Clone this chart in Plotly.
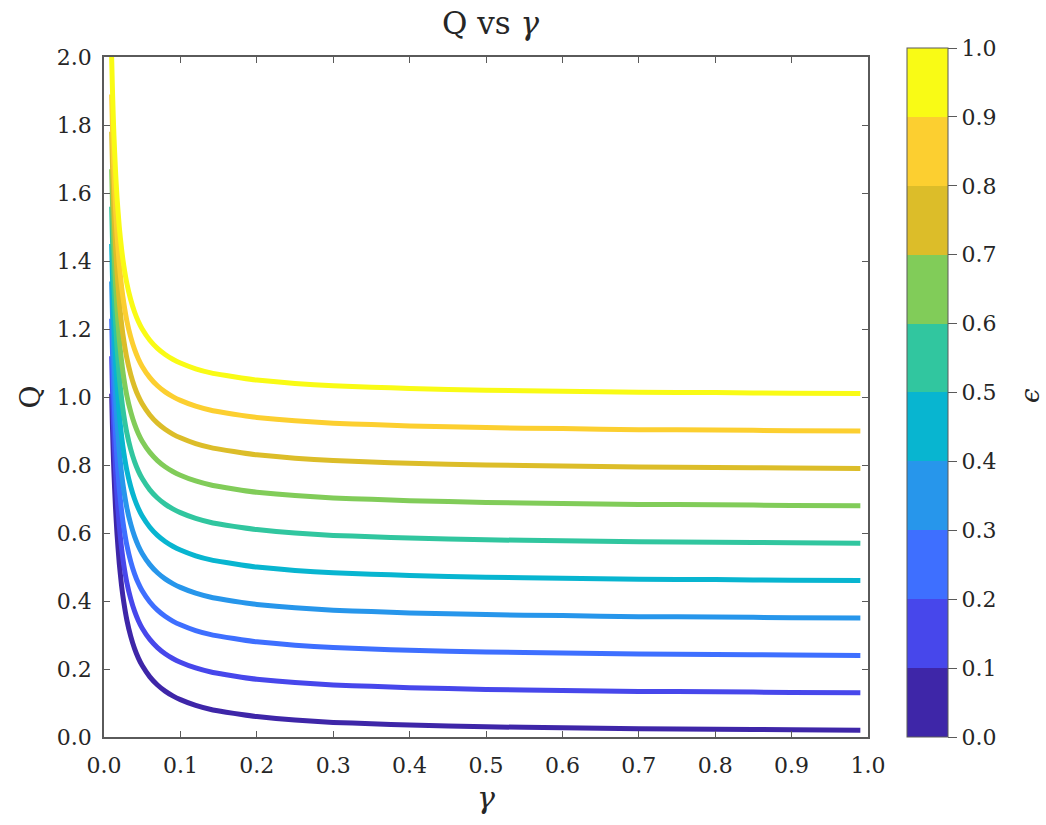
import plotly.graph_objects as go

gamma = [0.01, 0.011, 0.012, 0.013, 0.015, 0.017, 0.02, 0.023, 0.026, 0.03, 0.035, 0.04,
         0.045, 0.05, 0.06, 0.07, 0.08, 0.09, 0.1, 0.12, 0.14, 0.16, 0.18, 0.2, 0.25,
         0.3, 0.35, 0.4, 0.5, 0.6, 0.7, 0.8, 0.9, 0.99]

eps_levels = [0.01, 0.12, 0.23, 0.34, 0.45, 0.56, 0.67, 0.78, 0.89, 1.00]

q_eps_001 = [1.010, 0.919, 0.843, 0.779, 0.677, 0.598, 0.510, 0.445, 0.395, 0.343, 0.296, 0.260, 0.232, 0.210, 0.177, 0.153, 0.135, 0.121, 0.110, 0.093, 0.081, 0.073, 0.066, 0.060, 0.050, 0.043, 0.039, 0.035, 0.030, 0.027, 0.024, 0.023, 0.021, 0.020]
q_eps_012 = [1.120, 1.029, 0.953, 0.889, 0.787, 0.708, 0.620, 0.555, 0.505, 0.453, 0.406, 0.370, 0.342, 0.320, 0.287, 0.263, 0.245, 0.231, 0.220, 0.203, 0.191, 0.183, 0.176, 0.170, 0.160, 0.153, 0.149, 0.145, 0.140, 0.137, 0.134, 0.133, 0.131, 0.130]
q_eps_023 = [1.230, 1.139, 1.063, 0.999, 0.897, 0.818, 0.730, 0.665, 0.615, 0.563, 0.516, 0.480, 0.452, 0.430, 0.397, 0.373, 0.355, 0.341, 0.330, 0.313, 0.301, 0.293, 0.286, 0.280, 0.270, 0.263, 0.259, 0.255, 0.250, 0.247, 0.244, 0.243, 0.241, 0.240]
q_eps_034 = [1.340, 1.249, 1.173, 1.109, 1.007, 0.928, 0.840, 0.775, 0.725, 0.673, 0.626, 0.590, 0.562, 0.540, 0.507, 0.483, 0.465, 0.451, 0.440, 0.423, 0.411, 0.403, 0.396, 0.390, 0.380, 0.373, 0.369, 0.365, 0.360, 0.357, 0.354, 0.353, 0.351, 0.350]
q_eps_045 = [1.450, 1.359, 1.283, 1.219, 1.117, 1.038, 0.950, 0.885, 0.835, 0.783, 0.736, 0.700, 0.672, 0.650, 0.617, 0.593, 0.575, 0.561, 0.550, 0.533, 0.521, 0.513, 0.506, 0.500, 0.490, 0.483, 0.479, 0.475, 0.470, 0.467, 0.464, 0.463, 0.461, 0.460]
q_eps_056 = [1.560, 1.469, 1.393, 1.329, 1.227, 1.148, 1.060, 0.995, 0.945, 0.893, 0.846, 0.810, 0.782, 0.760, 0.727, 0.703, 0.685, 0.671, 0.660, 0.643, 0.631, 0.623, 0.616, 0.610, 0.600, 0.593, 0.589, 0.585, 0.580, 0.577, 0.574, 0.573, 0.571, 0.570]
q_eps_067 = [1.670, 1.579, 1.503, 1.439, 1.337, 1.258, 1.170, 1.105, 1.055, 1.003, 0.956, 0.920, 0.892, 0.870, 0.837, 0.813, 0.795, 0.781, 0.770, 0.753, 0.741, 0.733, 0.726, 0.720, 0.710, 0.703, 0.699, 0.695, 0.690, 0.687, 0.684, 0.683, 0.681, 0.680]
q_eps_078 = [1.780, 1.689, 1.613, 1.549, 1.447, 1.368, 1.280, 1.215, 1.165, 1.113, 1.066, 1.030, 1.002, 0.980, 0.947, 0.923, 0.905, 0.891, 0.880, 0.863, 0.851, 0.843, 0.836, 0.830, 0.820, 0.813, 0.809, 0.805, 0.800, 0.797, 0.794, 0.793, 0.791, 0.790]
q_eps_089 = [1.890, 1.799, 1.723, 1.659, 1.557, 1.478, 1.390, 1.325, 1.275, 1.223, 1.176, 1.140, 1.112, 1.090, 1.057, 1.033, 1.015, 1.001, 0.990, 0.973, 0.961, 0.953, 0.946, 0.940, 0.930, 0.923, 0.919, 0.915, 0.910, 0.907, 0.904, 0.903, 0.901, 0.900]
q_eps_100 = [2.000, 1.909, 1.833, 1.769, 1.667, 1.588, 1.500, 1.435, 1.385, 1.333, 1.286, 1.250, 1.222, 1.200, 1.167, 1.143, 1.125, 1.111, 1.100, 1.083, 1.071, 1.063, 1.056, 1.050, 1.040, 1.033, 1.029, 1.025, 1.020, 1.017, 1.014, 1.013, 1.011, 1.010]

series = [q_eps_001, q_eps_012, q_eps_023, q_eps_034, q_eps_045,
          q_eps_056, q_eps_067, q_eps_078, q_eps_089, q_eps_100]

colors = ["#3e26a8", "#4747eb", "#3e6fff", "#2796eb", "#08b5d0",
          "#31c69f", "#81cc59", "#dcbd29", "#fccf30", "#f9fb15"]

cbar_ticks = [0.0, 0.1, 0.2, 0.3, 0.4, 0.5, 0.6, 0.7, 0.8, 0.9, 1.0]

FONT = "DejaVu Serif"
TXT = "#262626"
AX = "#5a5a5a"

fig = go.Figure()
for q, c, e in zip(series, colors, eps_levels):
    fig.add_trace(go.Scatter(x=gamma, y=q, mode="lines",
                             line=dict(color=c, width=5, shape="spline", smoothing=0.5),
                             showlegend=False, name=f"ε={e}"))

# discrete colorscale for the colorbar
cs = []
for i, c in enumerate(colors):
    cs.append([i / 10, c])
    cs.append([(i + 1) / 10, c])

fig.add_trace(go.Scatter(
    x=[None], y=[None], mode="markers", showlegend=False, hoverinfo="skip",
    marker=dict(color=[0], cmin=0, cmax=1, colorscale=cs, showscale=True,
                colorbar=dict(
                    x=1.051, xanchor="left", xref="paper",
                    y=0.5066, yanchor="middle", ypad=0, xpad=0,
                    lenmode="pixels", len=689,
                    thickness=41, thicknessmode="pixels",
                    outlinecolor=AX, outlinewidth=1,
                    ticks="outside", ticklen=9, tickcolor=AX,
                    tickvals=cbar_ticks, ticktext=[f"{t:.1f}" for t in cbar_ticks],
                    tickfont=dict(family=FONT, size=22, color=TXT),
                ))))

axis_common = dict(showline=True, linecolor=AX, linewidth=1.5, mirror="allticks",
                   ticks="inside", ticklen=6, tickcolor=AX, showgrid=False, zeroline=False,
                   tickfont=dict(family=FONT, size=22, color=TXT), tickformat=".1f")

fig.update_xaxes(range=[0, 1], dtick=0.1, tick0=0, ticklabelstandoff=8,
                 title=dict(text="<i>γ</i>", font=dict(family=FONT, size=30, color=TXT), standoff=10),
                 **axis_common)
fig.update_yaxes(range=[0, 2], dtick=0.2, tick0=0, ticklabelstandoff=6,
                 title=dict(text="Q", font=dict(family=FONT, size=28, color=TXT), standoff=8),
                 **axis_common)

fig.add_annotation(text="<i>ϵ</i>", xref="paper", yref="paper", x=1.212, y=0.503,
                   showarrow=False, textangle=-90, xanchor="center", yanchor="middle",
                   font=dict(family=FONT, size=26, color=TXT))

fig.update_layout(
    width=1046, height=825,
    margin=dict(l=104, r=178, t=57, b=88),
    paper_bgcolor="white", plot_bgcolor="white",
    font=dict(family=FONT, color=TXT),
    title=dict(text="Q vs <i>γ</i>", x=0.469, xanchor="center", y=0.972, yanchor="middle",
               font=dict(family=FONT, size=31, color=TXT)),
)

fig.write_html("out.html")
